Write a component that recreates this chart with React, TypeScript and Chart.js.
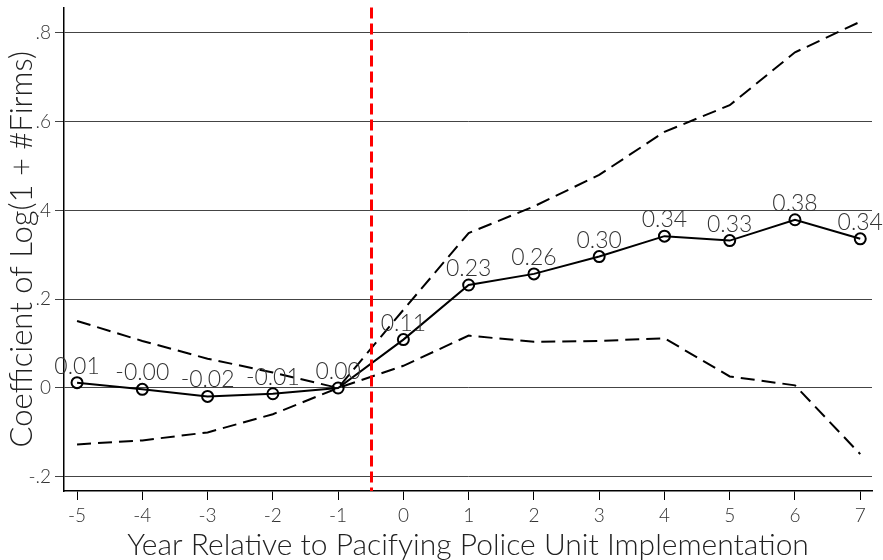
import React, { useEffect, useRef } from "react";
import { Chart, registerables } from "chart.js";

Chart.register(...registerables);

// Event-study estimates by year relative to implementation
const years = [-5, -4, -3, -2, -1, 0, 1, 2, 3, 4, 5, 6, 7];
const coef = [0.012, -0.003, -0.019, -0.013, 0.0, 0.109, 0.232, 0.257, 0.296, 0.342, 0.332, 0.379, 0.336];
const upperCI = [0.151, 0.106, 0.066, 0.035, 0.0, 0.176, 0.349, 0.409, 0.48, 0.577, 0.637, 0.756, 0.825];
const lowerCI = [-0.127, -0.118, -0.1, -0.059, 0.0, 0.05, 0.118, 0.104, 0.106, 0.112, 0.026, 0.006, -0.149];
const yTicks = [-0.2, 0, 0.2, 0.4, 0.6, 0.8];
const xTicks = [-5, -4, -3, -2, -1, 0, 1, 2, 3, 4, 5, 6, 7];
const treatmentYear = -0.5;

const FONT = "Lato, 'Open Sans', sans-serif";

const fmtY = (v: number) => {
  if (Math.abs(v) < 1e-9) return "0";
  const s = v.toFixed(1);
  return s.replace(/^(-?)0\./, "$1.");
};

const pointLabels = {
  id: "pointLabels",
  afterDatasetsDraw(chart: any) {
    const meta = chart.getDatasetMeta(0);
    const ctx = chart.ctx;
    ctx.save();
    ctx.font = `300 23px ${FONT}`;
    ctx.fillStyle = "#333";
    ctx.textAlign = "center";
    ctx.textBaseline = "alphabetic";
    meta.data.forEach((pt: any, i: number) => {
      ctx.fillText(coef[i].toFixed(2), pt.x, pt.y - 9);
    });
    ctx.restore();
  },
};

const treatmentLine = {
  id: "treatmentLine",
  afterDatasetsDraw(chart: any) {
    const { ctx, chartArea, scales } = chart;
    const x = Math.round(scales.x.getPixelForValue(treatmentYear)) + 0.5;
    ctx.save();
    ctx.strokeStyle = "#ff0000";
    ctx.lineWidth = 3;
    ctx.setLineDash([11, 5]);
    ctx.beginPath();
    ctx.moveTo(x, chartArea.top);
    ctx.lineTo(x, chartArea.bottom);
    ctx.stroke();
    ctx.restore();
  },
};

export default function App() {
  const canvasRef = useRef<HTMLCanvasElement | null>(null);

  useEffect(() => {
    const canvas = canvasRef.current;
    if (!canvas) return;
    const toXY = (vals: number[]) => years.map((x, i) => ({ x, y: vals[i] }));
    const chart = new Chart(canvas, {
      type: "line",
      data: {
        datasets: [
          {
            label: "Coefficient",
            data: toXY(coef),
            borderColor: "#000",
            borderWidth: 2,
            pointRadius: 5.5,
            pointBorderWidth: 2,
            pointBorderColor: "#000",
            pointBackgroundColor: "rgba(0,0,0,0)",
            tension: 0,
          },
          {
            label: "Upper 95% CI",
            data: toXY(upperCI),
            borderColor: "#000",
            borderWidth: 2,
            borderDash: [14, 7],
            pointRadius: 0,
            tension: 0,
          },
          {
            label: "Lower 95% CI",
            data: toXY(lowerCI),
            borderColor: "#000",
            borderWidth: 2,
            borderDash: [14, 7],
            pointRadius: 0,
            tension: 0,
          },
        ],
      },
      options: {
        responsive: false,
        animation: false,
        devicePixelRatio: 1,
        layout: { padding: { top: 5, right: 11, bottom: 0, left: 0 } },
        plugins: {
          legend: { display: false },
          tooltip: { enabled: false },
        },
        scales: {
          x: {
            type: "linear",
            min: -5.2,
            max: 7.18,
            afterFit: (s: any) => {
              s.height = 69;
              s.paddingLeft = 0;
              s.paddingRight = 0;
            },
            afterBuildTicks: (s: any) => {
              s.ticks = xTicks.map((v) => ({ value: v }));
            },
            grid: {
              drawOnChartArea: false,
              drawTicks: true,
              tickLength: 9,
              color: "#000",
            },
            border: { display: true, color: "#000", width: 1.5 },
            ticks: {
              padding: 4,
              color: "#333",
              font: { family: FONT, size: 19, weight: "300" },
              callback: (v: any) => String(v),
            },
            title: {
              display: true,
              text: "Year Relative to Pacifying Police Unit Implementation",
              color: "#222",
              font: { family: FONT, size: 30, weight: "300", lineHeight: 1 },
              padding: { top: 0, bottom: 0 },
            },
          },
          y: {
            type: "linear",
            min: -0.232,
            max: 0.857,
            afterFit: (s: any) => {
              s.width = 64;
              s.paddingTop = 0;
              s.paddingBottom = 0;
            },
            afterBuildTicks: (s: any) => {
              s.ticks = yTicks.map((v) => ({ value: v }));
            },
            grid: {
              drawOnChartArea: true,
              drawTicks: true,
              tickLength: 9,
              color: "#444",
              lineWidth: 1,
            },
            border: { display: true, color: "#000", width: 1.5 },
            ticks: {
              padding: 4,
              color: "#333",
              font: { family: FONT, size: 19, weight: "300" },
              callback: (v: any) => fmtY(Number(v)),
            },
            title: {
              display: true,
              text: "Coefficient of Log(1 + #Firms)",
              color: "#222",
              font: { family: FONT, size: 31, weight: "300", lineHeight: 1 },
              padding: { top: 6, bottom: 0 },
            },
          },
        },
      },
      plugins: [treatmentLine, pointLabels],
    });
    return () => chart.destroy();
  }, []);

  return (
    <div style={{ position: "fixed", left: 0, top: 0, width: 883, height: 560, background: "#fff" }}>
      <canvas ref={canvasRef} width={883} height={560} />
    </div>
  );
}
